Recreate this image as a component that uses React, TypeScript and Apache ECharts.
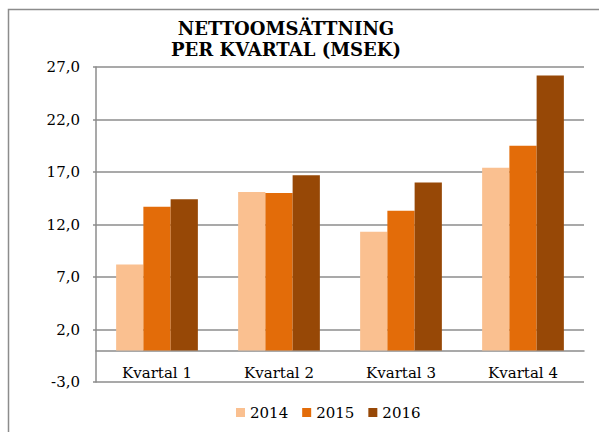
import React, { useEffect, useRef } from "react";
import * as echarts from "echarts";

const categories = ["Kvartal 1", "Kvartal 2", "Kvartal 3", "Kvartal 4"];
const years = ["2014", "2015", "2016"];
const values2014 = [8.2, 15.1, 11.3, 17.4];
const values2015 = [13.7, 15.0, 13.3, 19.5];
const values2016 = [14.4, 16.7, 16.0, 26.2];
const colors = ["#FAC090", "#E36C09", "#974806"];
const yMin = -3;
const yMax = 27;
const yStep = 5;

const FONT = "'DejaVu Serif', 'Liberation Serif', serif";

export default function App() {
  const ref = useRef<HTMLDivElement>(null);
  useEffect(() => {
    document.body.style.margin = "0";
    if (!ref.current) return;
    const chart = echarts.init(ref.current, null, { renderer: "svg" });
    const seriesValues = [values2014, values2015, values2016];
    chart.setOption({
      animation: false,
      backgroundColor: "#fff",
      graphic: [
        {
          type: "rect",
          shape: { x: 8.5, y: 9.5, width: 600, height: 440 },
          style: { fill: "none", stroke: "#8c8c8c", lineWidth: 1.5 },
          silent: true,
          z: -1,
        },
        {
          type: "text",
          x: 286,
          y: 18,
          style: {
            text: "NETTOOMSÄTTNING\nPER KVARTAL (MSEK)",
            font: `bold 18px ${FONT}`,
            fill: "#000",
            align: "center",
            verticalAlign: "top",
            lineHeight: 21,
          },
        },
      ],
      grid: { left: 96, right: 15, top: 67, bottom: 50, containLabel: false },
      legend: {
        data: years,
        left: 231,
        top: 400,
        icon: "rect",
        itemWidth: 9,
        itemHeight: 9,
        itemGap: 14,
        textStyle: { fontFamily: FONT, fontSize: 15, color: "#000" },
      },
      xAxis: {
        type: "category",
        data: categories,
        axisLine: { onZero: true, onZeroAxisIndex: 0, lineStyle: { color: "#8c8c8c", width: 1.5 } },
        axisTick: { show: false },
        axisLabel: { fontFamily: FONT, fontSize: 15, color: "#000", margin: -17 },
      },
      yAxis: [
        {
          type: "value",
          min: yMin,
          max: yMax,
          axisLine: { show: false },
          axisTick: { show: false },
          axisLabel: { show: false },
          splitLine: { show: false },
        },
        {
          type: "value",
          position: "left",
          min: 0,
          max: yMax - yMin,
          interval: yStep,
          axisLine: { show: true, lineStyle: { color: "#8c8c8c", width: 1.5 } },
          axisTick: { show: true, length: 3, lineStyle: { color: "#8c8c8c", width: 1.5 } },
          axisLabel: {
            fontFamily: FONT,
            fontSize: 15,
            color: "#000",
            margin: 16,
            formatter: (v: number) => (v + yMin).toFixed(1).replace(".", ","),
          },
          splitLine: { show: true, lineStyle: { color: "#8c8c8c", width: 1.5 } },
        },
      ],
      series: years.map((y, i) => ({
        name: y,
        type: "bar",
        yAxisIndex: 0,
        data: seriesValues[i],
        barGap: "0%",
        barCategoryGap: "33%",
        itemStyle: { color: colors[i] },
      })),
    });
    return () => chart.dispose();
  }, []);
  return <div ref={ref} style={{ width: 599, height: 432 }} />;
}
